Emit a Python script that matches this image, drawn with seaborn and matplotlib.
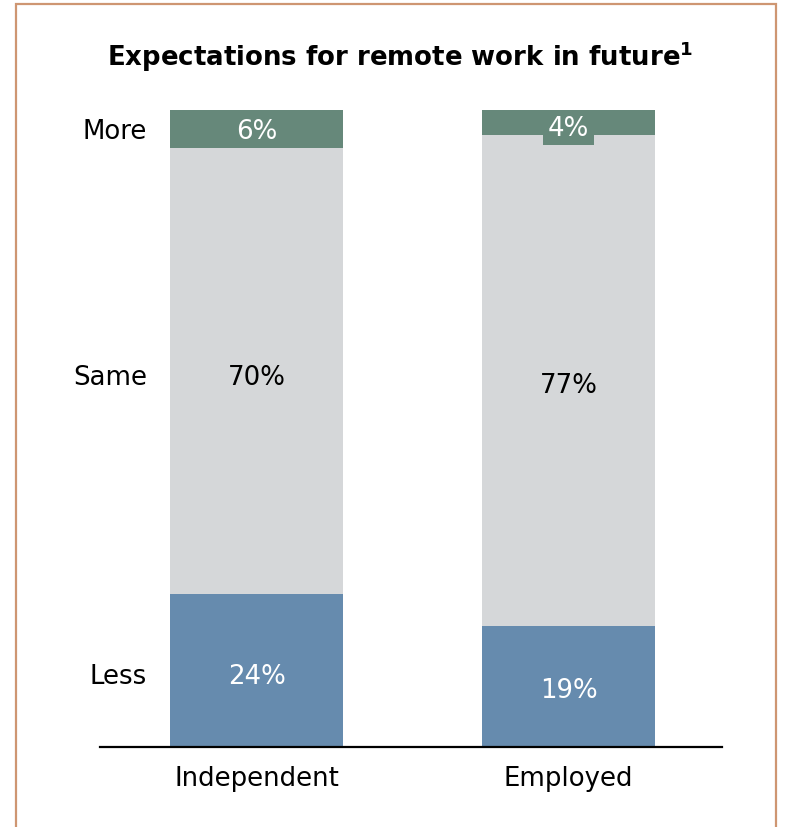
import matplotlib
matplotlib.use("Agg")
import matplotlib.pyplot as plt
import seaborn as sns
import pandas as pd
from matplotlib.patches import Rectangle

# Share of respondents expecting more / same / less remote work
groups = ["Independent", "Employed"]
less = [24, 19]
same = [70, 77]
more = [6, 4]
row_labels = ["More", "Same", "Less"]

colors = {"Less": "#668BAE", "Same": "#D5D7D9", "More": "#66887A"}

sns.set_theme(style="white")
plt.rcParams["font.family"] = ["DejaVu Sans"]

df = pd.DataFrame({"group": groups, "Less": less, "Same": same, "More": more})
df["same_base"] = df["Less"]
df["more_base"] = df["Less"] + df["Same"]

fig = plt.figure(figsize=(7.87, 8.28), dpi=100)
ax = fig.add_axes([100 / 787, 80 / 828, 622 / 787, 637 / 828])

bar_w = 0.555
sns.barplot(data=df, x="group", y="Less", color=colors["Less"], width=bar_w,
            saturation=1, ax=ax, linewidth=0)
sns.barplot(data=df, x="group", y="Same", bottom=df["same_base"], color=colors["Same"],
            width=bar_w, saturation=1, ax=ax, linewidth=0)
sns.barplot(data=df, x="group", y="More", bottom=df["more_base"], color=colors["More"],
            width=bar_w, saturation=1, ax=ax, linewidth=0)

ax.set_xlim(-0.502, 1.492)
ax.set_ylim(0, 100)
ax.set_xlabel("")
ax.set_ylabel("")
ax.set_yticks([])
for s in ["top", "left", "right"]:
    ax.spines[s].set_visible(False)
ax.spines["bottom"].set_color("black")
ax.spines["bottom"].set_linewidth(1.6)
fs = 18.7
ax.tick_params(axis="x", length=0, pad=13, labelsize=fs, colors="black")
ax.set_facecolor("none")

# Value labels inside each segment (small vertical nudges per segment)
less_y = [less[0] / 2 - 0.8, less[1] / 2 - 0.6]
same_y = [less[0] + same[0] / 2 - 0.95, less[1] + same[1] / 2 - 0.7]
more_y = [100 - more[0] / 2 - 0.3, 100 - more[1] / 2 - 0.8]
for i in range(len(groups)):
    ax.text(i, less_y[i], f"{less[i]}%", ha="center", va="center", fontsize=fs,
            color="white")
    ax.text(i, same_y[i], f"{same[i]}%", ha="center", va="center", fontsize=fs,
            color="black")
    box = None
    if i == 1:
        box = dict(boxstyle="square,pad=0.17", fc=colors["More"], ec="none")
    ax.text(i, more_y[i], f"{more[i]}%", ha="center", va="center", fontsize=fs,
            color="white", bbox=box)

# Row labels to the left of the first bar
row_y = [100 - more[0] / 2 - 0.3, less[0] + same[0] / 2 - 0.95, less[0] / 2 - 0.8]
for lab, y in zip(row_labels, row_y):
    ax.text(-0.352, y, lab, ha="right", va="center", fontsize=fs, color="black")

fig.text(400 / 787, 1 - 57 / 828, r"Expectations for remote work in future$^{\mathbf{1}}$",
         ha="center", va="center", fontsize=fs, fontweight="bold", color="black")

# Outer frame
fig.patches.append(Rectangle((16 / 787, -0.05), 760 / 787, 1 - 5 / 828 + 0.05,
                             transform=fig.transFigure, fill=False,
                             edgecolor="#CE9672", linewidth=1.6))

fig.savefig("out.png", dpi=100)
